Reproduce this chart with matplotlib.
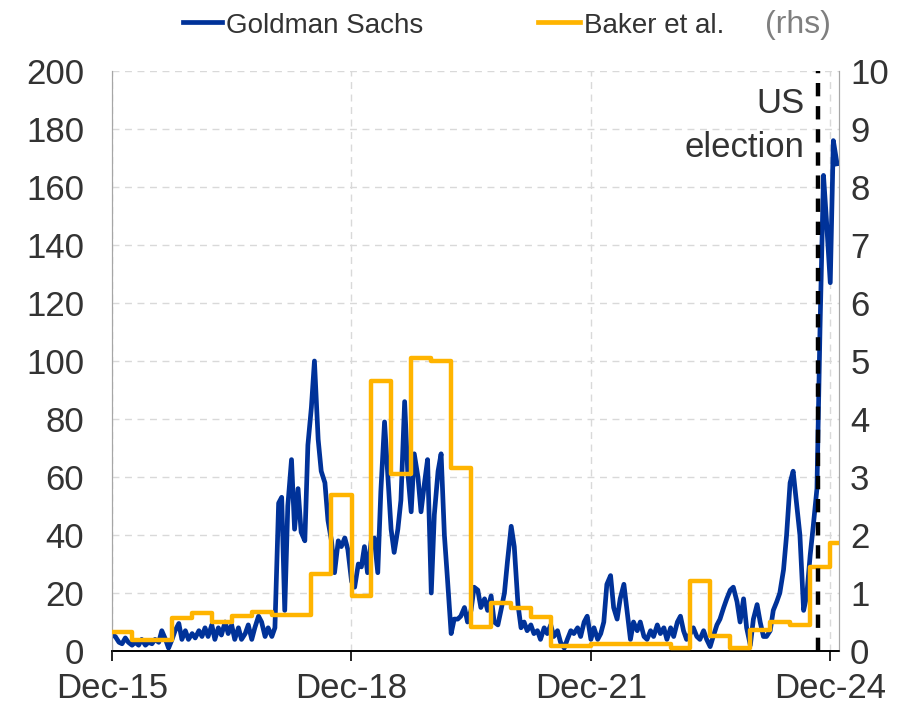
import matplotlib

matplotlib.use("Agg")
import matplotlib.dates as mdates
import matplotlib.pyplot as plt
import pandas as pd
from matplotlib.lines import Line2D

BLUE = "#003299"
YELLOW = "#FFB400"
TXT = "#333333"

# Goldman Sachs index, semi-monthly from Jan-16 (lhs)
gs_start = "2016-01-01"
gs_values = [
    5.5, 5, 3, 2.5, 4.5, 3, 2, 3, 2, 4, 2, 3, 2.5, 4, 3, 7, 4, 1, 4, 7,
    9.5, 4, 7, 4, 6, 4.5, 7, 5, 8, 5, 9, 4, 8, 5.5, 10, 6, 9, 4, 8, 4,
    6, 9, 4, 8, 12, 10, 5, 8, 5, 8, 51, 53, 14, 50, 66, 42, 56, 41, 38, 71,
    84, 100, 73, 62, 58, 45, 38, 27, 38, 36, 39, 35, 24, 22, 30, 29, 36, 27, 38, 39,
    27, 55, 79, 62, 42, 34, 42, 52, 86, 62, 48, 68, 60, 48, 58, 66, 20, 47, 62, 68,
    40, 25, 6, 11, 11, 12, 15, 10, 14, 22, 21, 15, 18, 14, 19, 10, 9, 14, 20, 31,
    43, 36, 16, 8, 10, 7, 9, 6, 7, 4, 8, 6, 9, 5, 7, 3, 1, 4, 7, 6,
    8, 5, 10, 12, 4, 8, 4, 6, 10, 23, 26, 15, 11, 18, 23, 14, 4, 10, 7, 10,
    5, 4, 7, 5, 9, 6, 8, 4, 8, 5, 10, 12, 7, 4, 6, 8, 5, 4, 7, 4,
    1.5, 5, 9, 11, 15, 18, 21, 22, 17, 10, 18, 8, 2, 11, 16, 10, 5, 5, 7, 14,
    17, 20, 28, 40, 58, 62, 50, 40, 14, 19, 33, 43, 56, 111, 164, 148, 127, 176, 168,
]

# Baker et al. index, quarterly from 2016Q1 (rhs)
baker_start = "2016-01-01"
baker_values = [
    0.32, 0.19, 0.19, 0.57, 0.66, 0.50, 0.60, 0.67, 0.62, 0.62,
    1.33, 2.69, 0.95, 4.65, 3.05, 5.06, 5.00, 3.15, 0.42, 0.82,
    0.74, 0.58, 0.09, 0.09, 0.12, 0.12, 0.12, 0.12, 0.05, 1.20,
    0.26, 0.05, 0.36, 0.50, 0.45, 1.45, 1.86,
]

tick_dates = ["2015-12-31", "2018-12-31", "2021-12-31", "2024-12-31"]
tick_labels = ["Dec-15", "Dec-18", "Dec-21", "Dec-24"]
election_date = "2024-11-05"
x_end = "2025-02-10"


def main():
    plt.rcParams["font.family"] = ["Liberation Sans", "DejaVu Sans"]
    plt.rcParams["font.size"] = 25

    gs_dates = pd.date_range(gs_start, periods=len(gs_values), freq="SMS")
    baker_dates = pd.date_range(baker_start, periods=len(baker_values), freq="QS")
    bx = list(baker_dates) + [pd.Timestamp(x_end)]
    by = baker_values + [baker_values[-1]]

    fig = plt.figure(figsize=(9.23, 7.08), dpi=100)
    ax = fig.add_axes([112 / 923, 1 - 651 / 708, 727 / 923, 580 / 708])
    ax2 = ax.twinx()

    ax.plot(gs_dates, gs_values, color=BLUE, lw=3.4, solid_joinstyle="round", zorder=3)
    ax2.step(bx, by, where="post", color=YELLOW, lw=3.2, zorder=3)
    ax2.axvline(pd.Timestamp(election_date), color="black", lw=3.2, dashes=(3, 2.2), zorder=5)

    ax.set_xlim(pd.Timestamp("2015-12-31"), pd.Timestamp(x_end))
    ax.set_ylim(0, 200)
    ax2.set_ylim(0, 10)
    ax.set_yticks(range(0, 201, 20))
    ax2.set_yticks(range(0, 11))
    ax.set_xticks([mdates.date2num(pd.Timestamp(d)) for d in tick_dates])
    ax.set_xticklabels(tick_labels)

    # grid + spines
    ax.grid(True, color="#D9D9D9", lw=1, dashes=(5, 4))
    ax.set_axisbelow(True)
    for a in (ax, ax2):
        a.spines["top"].set_visible(False)
        a.spines["left"].set_color("#A6A6A6")
        a.spines["right"].set_color("#A6A6A6")
        a.spines["bottom"].set_color("black")
        a.spines["bottom"].set_linewidth(1.2)
    ax.tick_params(axis="x", direction="out", length=7, width=1.2, color="black",
                   labelcolor=TXT, pad=8)
    ax.tick_params(axis="y", length=0, pad=20, labelcolor=TXT)
    ax2.tick_params(axis="y", length=0, pad=8, labelcolor=TXT)

    # annotation, right-aligned just left of the election line
    ax.text(pd.Timestamp("2024-09-05"), 185.5, "US", ha="right", va="baseline", color=TXT)
    ax.text(pd.Timestamp("2024-09-05"), 170.3, "election", ha="right", va="baseline", color=TXT)

    # legend, built by hand
    yl = 1 - 22 / 708
    yb = 1 - 33 / 708
    fig.add_artist(Line2D([183 / 923, 222 / 923], [yl, yl], color=BLUE, lw=3.4))
    fig.text(226 / 923, yb, "Goldman Sachs", color=TXT, va="baseline", fontsize=20)
    fig.add_artist(Line2D([538 / 923, 580 / 923], [yl, yl], color=YELLOW, lw=3.4))
    fig.text(584 / 923, yb, "Baker et al.", color=TXT, va="baseline", fontsize=20)
    fig.text(765 / 923, yb, "(rhs)", color="#7F7F7F", va="baseline", fontsize=23)

    fig.savefig("out.png", dpi=100)


if __name__ == "__main__":
    main()
